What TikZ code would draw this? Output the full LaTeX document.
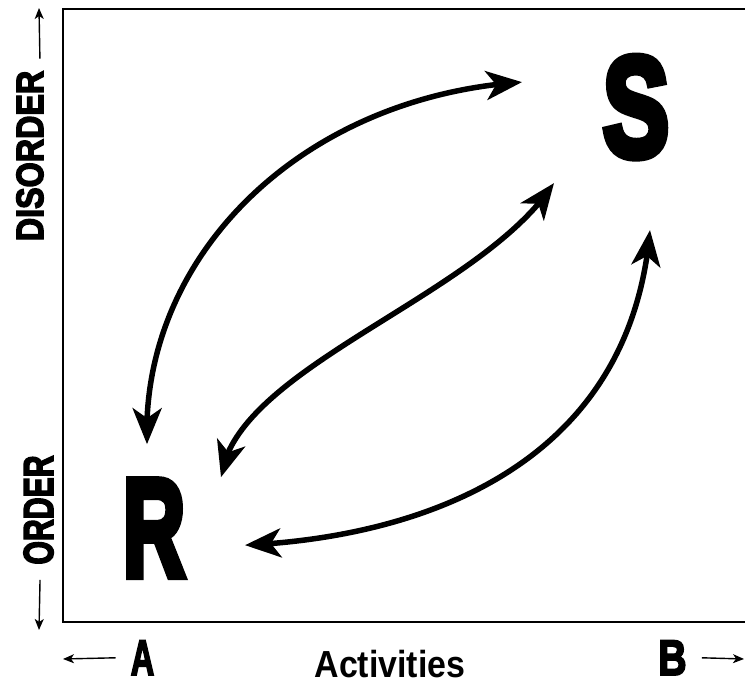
\documentclass[tikz,border=0pt]{standalone}
\usepackage{fontspec}
\setmainfont{Liberation Sans}
\newfontfamily\heavyfont[FakeBold=4]{Liberation Sans Bold}
\newfontfamily\blackfont[FakeBold=6]{Liberation Sans Bold}
\usetikzlibrary{arrows.meta,bending}

\tikzset{
    bigletter/.style={font=\fontsize{142}{142}\selectfont\blackfont, inner sep=0pt, anchor=base},
    axistext/.style={inner sep=0pt, anchor=base},
    flow/.style={line width=5.5pt, {Stealth[length=36pt,width=29pt,inset=10pt]}-{Stealth[length=36pt,width=29pt,inset=10pt]}},
    axisarrow/.style={line width=1.4pt, -{Stealth[length=11pt,width=9pt,inset=3pt]}},
}

\begin{document}
\begin{tikzpicture}[x=1pt,y=1pt]
        \useasboundingbox (0,0) rectangle (745,685);
        % frame, open on the right
        \draw[line width=2pt] (745,676) -- (63,676) -- (63,63) -- (745,63);

        % the two states
        \node[bigletter] (S) at (636,529) {\scalebox{0.70}[1]{S}};
        \node[bigletter, font=\fontsize{139}{139}\selectfont\blackfont] (R) at (154,109) {\scalebox{0.62}[1]{R}};

        % arrow ends
        \coordinate (r1) at ([shift={(-7,84)}]R.center);
        \coordinate (r2) at ([shift={(67,51)}]R.center);
        \coordinate (r3) at ([shift={(91,-17)}]R.center);
        \coordinate (s1) at ([shift={(-114,25)}]S.center);
        \coordinate (s2) at ([shift={(-82,-76)}]S.center);
        \coordinate (s3) at ([shift={(14,-123)}]S.center);

        \draw[flow] (r1) .. controls +(-7,187) and +(-222,-15) .. (s1);
        \draw[flow] (r2) .. controls +(14,110) and +(-74,-114) .. (s2);
        \draw[flow] (r3) .. controls +(175,8) and +(-20,-237) .. (s3);

        % vertical axis
        \node[axistext, rotate=90, font=\fontsize{38}{38}\selectfont\heavyfont] (dis) at (43,529) {\scalebox{0.85}[1]{DISORDER}};
        \node[axistext, rotate=90, font=\fontsize{42}{42}\selectfont\heavyfont] (ord) at (53,175) {\scalebox{0.72}[1]{ORDER}};
        \coordinate (up) at (39,677);
        \coordinate (down) at (39,55);
        \draw[axisarrow] ([shift={(10,12)}]dis.east) -- (up);
        \draw[axisarrow] ([shift={(1.5,-15)}]ord.west) -- (down);

        % horizontal axis
        \node[axistext, font=\fontsize{50}{50}\selectfont\heavyfont] (A) at (142.5,10) {\scalebox{0.65}[1]{A}};
        \node[axistext, font=\fontsize{50}{50}\selectfont\heavyfont] (B) at (672.5,10) {\scalebox{0.78}[1]{B}};
        \node[axistext, font=\fontsize{37.7}{37.7}\selectfont\bfseries] (act) at (390,7) {\scalebox{0.9}[1]{Activities}};
        \coordinate (left) at (63,26);
        \coordinate (right) at (744,26);
        \draw[axisarrow] ([xshift=-15pt]A.west) -- (left);
        \draw[axisarrow] ([xshift=15pt]B.east) -- (right);
\end{tikzpicture}
\end{document}
